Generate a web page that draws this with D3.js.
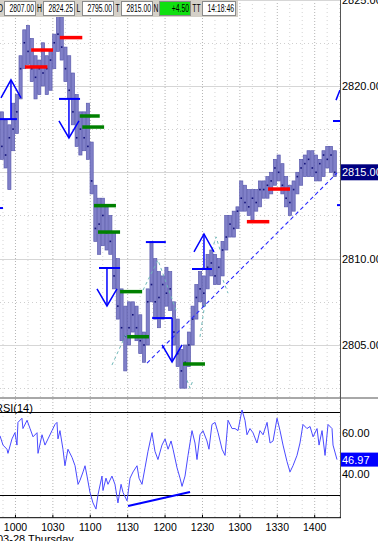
<!DOCTYPE html>
<html>
<head>
<meta charset="utf-8">
<script src="https://cdn.jsdelivr.net/npm/d3@7"></script>
<style>
  body { margin: 0; background: #fff; overflow: hidden; }
  svg { display: block; font-family: "Liberation Sans", Arial, sans-serif; }
</style>
</head>
<body>
<div id="chart"></div>
<script>
// 3-minute bars, first one starts 09:48 (minutes after midnight)
const firstBar = 588;
const barMinutes = 3;

const highs = [
  2818.5, 2818.0, 2817.75, 2819.0, 2819.5, 2821.75, 2823.25, 2823.5, 2822.75, 2821.75,
  2821.5, 2822.5, 2821.75, 2822.0, 2823.0, 2824.25, 2824.0, 2822.25, 2821.75, 2820.75,
  2819.5, 2818.5, 2818.5, 2819.0, 2816.75, 2814.25, 2813.5, 2813.5, 2813.0, 2812.5,
  2811.5, 2810.0, 2808.25, 2807.25, 2807.5, 2807.5, 2807.25, 2806.75, 2805.75, 2808.25,
  2811.0, 2810.0, 2809.25, 2809.0, 2809.5, 2809.25, 2807.5, 2806.5, 2804.75, 2805.0,
  2805.75, 2807.25, 2808.5, 2809.25, 2809.0, 2810.25, 2810.5, 2810.25, 2810.0, 2811.0,
  2812.5, 2812.5, 2812.75, 2813.0, 2814.5, 2814.25, 2814.0, 2814.0, 2814.0, 2814.5,
  2814.5, 2814.75, 2815.0, 2815.75, 2816.0, 2815.5, 2814.75, 2814.25, 2814.5, 2815.0,
  2815.75, 2816.0, 2816.25, 2816.25, 2816.0, 2815.75, 2816.25, 2816.5, 2816.5, 2816.25
];
const lows = [
  2815.75, 2815.25, 2814.0, 2816.25, 2817.25, 2819.25, 2821.0, 2821.25, 2820.25, 2819.25,
  2819.5, 2820.0, 2819.5, 2819.75, 2821.0, 2822.0, 2821.5, 2820.25, 2819.25, 2817.75,
  2816.5, 2816.0, 2816.25, 2815.75, 2813.75, 2811.0, 2810.25, 2810.75, 2810.5, 2810.25,
  2808.25, 2806.5, 2805.25, 2803.5, 2805.0, 2805.75, 2805.25, 2804.5, 2804.0, 2805.0,
  2807.5, 2806.5, 2806.0, 2806.5, 2807.25, 2807.0, 2805.0, 2803.75, 2802.5, 2802.5,
  2803.75, 2805.0, 2806.5, 2807.5, 2807.25, 2808.25, 2809.0, 2808.5, 2808.5, 2809.0,
  2810.5, 2811.25, 2811.25, 2811.75, 2812.75, 2812.75, 2812.5, 2812.25, 2812.75, 2813.0,
  2813.5, 2813.5, 2813.75, 2814.25, 2814.5, 2813.75, 2813.0, 2812.5, 2812.75, 2813.75,
  2814.25, 2814.75, 2814.75, 2814.75, 2814.5, 2814.5, 2814.75, 2815.25, 2815.0, 2814.75
];
const closes = [
  2816.5, 2816.0, 2817.0, 2817.5, 2818.5, 2821.0, 2822.5, 2822.0, 2821.0, 2820.5,
  2821.0, 2820.75, 2821.0, 2821.5, 2822.5, 2823.0, 2822.25, 2821.0, 2819.75, 2818.5,
  2817.0, 2817.5, 2817.0, 2816.5, 2814.5, 2811.75, 2812.0, 2812.5, 2811.5, 2811.0,
  2809.0, 2807.25, 2806.0, 2805.5, 2806.0, 2806.75, 2806.0, 2805.25, 2805.0, 2807.5,
  2808.5, 2807.5, 2807.75, 2808.5, 2808.0, 2808.25, 2805.75, 2804.5, 2803.5, 2804.0,
  2805.0, 2806.5, 2807.75, 2808.25, 2808.0, 2809.5, 2809.75, 2809.0, 2809.5, 2810.5,
  2811.25, 2812.0, 2811.75, 2812.75, 2813.5, 2813.25, 2813.0, 2813.5, 2813.25, 2814.0,
  2814.0, 2814.25, 2814.5, 2815.25, 2815.0, 2814.25, 2813.5, 2813.25, 2814.0, 2814.75,
  2815.25, 2815.5, 2815.75, 2815.25, 2815.0, 2815.5, 2816.0, 2815.75, 2816.0, 2815.0
];

// RSI(14): times (minutes after midnight) and values
const rsiTimes = [
  588.0, 590.4, 593.6, 594.4, 597.6, 600.0, 601.6, 602.4, 605.6, 606.4, 609.7, 612.1, 614.5, 617.7, 618.5,
  621.7, 624.1, 626.5, 629.7, 632.1, 633.7, 634.5, 636.1, 638.5, 640.1, 642.5, 645.8, 648.2, 650.6, 652.2,
  654.6, 656.2, 657.8, 660.2, 662.6, 665.0, 666.6, 669.8, 670.6, 673.0, 674.6, 677.8, 680.2, 682.6, 685.1,
  686.7, 689.9, 692.3, 694.7, 697.9, 699.5, 701.9, 704.3, 706.7, 709.9, 712.3, 714.7, 717.9, 720.4, 722.8,
  725.2, 726.8, 730.0, 732.4, 734.0, 736.4, 738.8, 742.0, 744.4, 746.0, 748.4, 750.8, 754.0, 755.6, 758.0,
  760.5, 762.9, 766.1, 768.5, 770.9, 774.1, 776.5, 778.9, 782.1, 784.5, 786.1, 788.5, 790.9, 794.1, 796.5,
  799.0, 802.2, 804.6, 807.0, 810.2, 812.6, 815.0, 818.2, 820.6, 823.0, 826.2, 828.6, 831.0, 834.2, 836.7,
  839.1, 842.3, 843.9, 846.3, 848.7, 851.1, 854.3, 855.1, 858.3
];
const rsiValues = [
  58.5, 54, 52, 50, 57, 60, 54, 65, 67, 62, 66, 62, 58, 60, 50,
  59, 54, 57, 61, 64, 65, 57, 61, 52, 44, 52, 48, 44, 35, 37,
  41, 44, 39, 31, 26, 23, 30, 39, 32, 38, 35, 39, 35, 26, 35,
  31, 27, 38, 41, 44, 38, 35, 43, 51, 60, 51, 47, 54, 57, 52,
  56, 52, 43, 38, 34, 39, 49, 61, 55, 47, 59, 61, 56, 52, 64,
  65, 60, 52, 49, 66, 62, 62, 61, 71, 66, 59, 62, 60, 55, 61,
  59, 65, 55, 56, 67, 61, 54, 46, 41, 44, 49, 55, 64, 62, 63,
  58, 62, 54, 61, 49, 64, 62, 54, 46.97
];

// level marks: [start min, end min, price]
const redLevels = [[608, 626, 2821.1], [613, 630.5, 2822.08], [636, 654, 2822.8], [786, 804, 2812.14], [803, 820.6, 2814.03]];
const greenLevels = [[652, 668, 2818.26], [654, 671.5, 2817.62], [663.4, 681, 2813.07], [666.6, 684.3, 2811.54],
  [684.3, 702, 2808.09], [690, 707.5, 2805.48], [734.8, 752.4, 2803.9]];
// signal arrows: [bar start, bar end, stem time, bar price, tip price]
const signalArrows = [[588, 601.6, 596.8, 2818.08, 2820.35], [635.3, 652.2, 643.3, 2819.25, 2816.99],
  [667.4, 684.3, 673.8, 2809.46, 2807.26], [710, 726, 726, 2806.56, 2804.02], [742, 758, 751.6, 2809.4, 2811.43]];
// plain signal bars: [start, end, price]
const signalBars = [[705, 721, 2810.96], [855.1, 861, 2817.97], [858.3, 861, 2813.1], [586, 590.4, 2812.93]];
const signalSegs = [[857.5, 2819.18, 860.7, 2819.76]];
// trend line and zigzag guides: [time, price] points
const trendLine = [[705.9, 2803.95], [858.3, 2814.96]];
const guideLines = [
  [[677.8, 2803.84], [689.1, 2805.63]],
  [[702.7, 2808.18], [714.7, 2809.92], [730, 2806.85]],
  [[738, 2802.96], [740.4, 2802.5], [742.8, 2802.96]],
  [[748.4, 2805.47], [752.4, 2807.43]],
  [[758, 2810.5], [761.3, 2811.26], [764.5, 2810.5]],
  [[766.9, 2808.76], [770.9, 2808.0]]
];
const rsiDivergence = [[690.7, 24.5], [740.4, 31.3]];

const priceTicks = [2805, 2810, 2815, 2820, 2825];
const rsiTicks = [40, 60];
const rsiBands = [30, 70];
const timeTicks = [600, 630, 660, 690, 720, 750, 780, 810, 840];
const lastPrice = 2815.00;
const lastRsi = 46.97;
const dateLabel = '03-28 Thursday';
const quoteLabels = ['O', 'H', 'L', 'T', 'N', 'TT'];
const quoteValues = ['2807.00', '2824.25', '2795.00', '2815.00', '+4.50', '14:18:46'];

const width = 378, height = 541, plotRight = 340;
const priceBottom = 397, rsiTop = 399, axisY = 517.7;

const svg = d3.select('#chart').append('svg')
  .attr('width', width)
  .attr('height', height);

const x = d3.scaleLinear().domain([588, 860.7]).range([0, plotRight]);
const yP = d3.scaleLinear().domain([2805, 2815]).range([345, 172.3]);
const yR = d3.scaleLinear().domain([40, 60]).range([474, 432.7]);
const barW = x(firstBar + barMinutes) - x(firstBar);
const barTime = i => firstBar + i * barMinutes;

const defs = svg.append('defs');
defs.append('clipPath').attr('id', 'clip-price').append('rect')
  .attr('x', 0).attr('y', 0).attr('width', plotRight).attr('height', priceBottom);
defs.append('clipPath').attr('id', 'clip-rsi').append('rect')
  .attr('x', 0).attr('y', rsiTop).attr('width', plotRight).attr('height', axisY - rsiTop);

// grid
const grid = svg.append('g');
d3.range(590, 861, 10).forEach(t => {
  const major = (t % 30) === 0;
  grid.append('line')
    .attr('x1', x(t) + 0.5).attr('x2', x(t) + 0.5)
    .attr('y1', 0).attr('y2', axisY)
    .attr('stroke', major ? '#b4b4b4' : '#d4d4d4')
    .attr('stroke-dasharray', major ? '1,2' : '1,3');
});
d3.range(2802.5, 2825.1, 2.5).forEach(p => {
  const major = (p % 5) === 0;
  grid.append('line')
    .attr('x1', 0).attr('x2', plotRight)
    .attr('y1', Math.round(yP(p)) + 0.5).attr('y2', Math.round(yP(p)) + 0.5)
    .attr('stroke', major ? '#d6d6d6' : '#cfcfcf')
    .attr('stroke-dasharray', major ? null : '1,3');
});

// price bars
const pricePane = svg.append('g').attr('clip-path', 'url(#clip-price)');
pricePane.selectAll('.bar')
  .data(highs)
  .join('rect')
  .attr('class', 'bar')
  .attr('x', (d, i) => x(barTime(i)) + 0.3)
  .attr('width', barW - 0.6)
  .attr('y', d => yP(d))
  .attr('height', (d, i) => yP(lows[i]) - yP(d))
  .attr('fill', '#8080c8')
  .attr('stroke', '#5a5aae')
  .attr('stroke-width', 0.7);
pricePane.selectAll('.close')
  .data(closes)
  .join('rect')
  .attr('class', 'close')
  .attr('x', (d, i) => x(barTime(i) + barMinutes / 2) - 0.8)
  .attr('y', d => yP(d) - 0.8)
  .attr('width', 1.6).attr('height', 1.6)
  .attr('fill', '#12127a');

// guides
const priceLine = d3.line().x(d => x(d[0])).y(d => yP(d[1]));
guideLines.forEach(g => {
  pricePane.append('path').attr('d', priceLine(g))
    .attr('fill', 'none').attr('stroke', '#6fb8b8').attr('stroke-width', 1)
    .attr('stroke-dasharray', '3,3');
});
pricePane.append('path').attr('d', priceLine(trendLine))
  .attr('fill', 'none').attr('stroke', '#2828ff').attr('stroke-width', 1.1)
  .attr('stroke-dasharray', '4,3');

// red and green levels
const drawLevels = (levels, color) => {
  pricePane.selectAll(null)
    .data(levels)
    .join('line')
    .attr('x1', d => x(d[0])).attr('x2', d => x(d[1]))
    .attr('y1', d => yP(d[2])).attr('y2', d => yP(d[2]))
    .attr('stroke', color).attr('stroke-width', 3.5);
};
drawLevels(redLevels, '#ff0000');
drawLevels(greenLevels, '#008000');

// signal arrows
const blue = '#0000ff';
signalArrows.forEach(a => {
  const [t0, t1, ts, pBar, pTip] = a;
  const up = pTip > pBar;
  const tx = x(ts), ty = yP(pTip);
  const wy = up ? ty + 18 : ty - 17;
  pricePane.append('line')
    .attr('x1', x(t0)).attr('x2', x(t1)).attr('y1', yP(pBar)).attr('y2', yP(pBar))
    .attr('stroke', blue).attr('stroke-width', 2);
  pricePane.append('line')
    .attr('x1', tx).attr('x2', tx).attr('y1', yP(pBar)).attr('y2', ty)
    .attr('stroke', blue).attr('stroke-width', 1.5);
  pricePane.append('path')
    .attr('d', `M${tx - 10},${wy}L${tx},${ty}L${tx + 10},${wy}`)
    .attr('fill', 'none').attr('stroke', blue).attr('stroke-width', 1.5);
});
signalBars.forEach(b => {
  pricePane.append('line')
    .attr('x1', x(b[0])).attr('x2', x(b[1])).attr('y1', yP(b[2])).attr('y2', yP(b[2]))
    .attr('stroke', blue).attr('stroke-width', 2);
});
signalSegs.forEach(s => {
  pricePane.append('line')
    .attr('x1', x(s[0])).attr('y1', yP(s[1])).attr('x2', x(s[2])).attr('y2', yP(s[3]))
    .attr('stroke', blue).attr('stroke-width', 1.5);
});

// panel separator
svg.append('rect').attr('x', 0).attr('y', priceBottom).attr('width', width).attr('height', 2)
  .attr('fill', '#a8a8a8');

// RSI pane
const rsiPane = svg.append('g').attr('clip-path', 'url(#clip-rsi)');
rsiBands.forEach(v => {
  rsiPane.append('line')
    .attr('x1', 0).attr('x2', plotRight)
    .attr('y1', Math.round(yR(v)) + 0.5).attr('y2', Math.round(yR(v)) + 0.5)
    .attr('stroke', '#000').attr('stroke-width', 1);
});
const rsiLine = d3.line()
  .x((d, i) => x(rsiTimes[i]))
  .y(d => yR(d));
rsiPane.append('path').attr('d', rsiLine(rsiValues))
  .attr('fill', 'none').attr('stroke', '#4a4aff').attr('stroke-width', 1);
rsiPane.append('line')
  .attr('x1', x(rsiDivergence[0][0])).attr('y1', yR(rsiDivergence[0][1]))
  .attr('x2', x(rsiDivergence[1][0])).attr('y2', yR(rsiDivergence[1][1]))
  .attr('stroke', blue).attr('stroke-width', 2.2);
svg.append('text')
  .attr('x', -5).attr('y', 412)
  .attr('font-size', '11px').attr('fill', '#000')
  .text('RSI(14)');

// right axes
svg.append('line').attr('x1', plotRight + 0.5).attr('x2', plotRight + 0.5).attr('y1', 0).attr('y2', axisY)
  .attr('stroke', '#555');
const priceAxis = svg.append('g')
  .attr('transform', `translate(${plotRight},0)`)
  .call(d3.axisRight(yP).tickValues(priceTicks).tickFormat(d3.format('.2f')).tickSize(0).tickPadding(2));
const rsiAxis = svg.append('g')
  .attr('transform', `translate(${plotRight},0)`)
  .call(d3.axisRight(yR).tickValues(rsiTicks).tickFormat(d3.format('.2f')).tickSize(0).tickPadding(2));
[priceAxis, rsiAxis].forEach(a => {
  a.select('.domain').remove();
  a.selectAll('text').attr('font-size', '11px').attr('font-family', '"Liberation Sans", Arial, sans-serif')
    .attr('fill', '#000');
});

// last value boxes
const valueBox = (yPos, label, bg, h) => {
  svg.append('rect').attr('x', plotRight + 1).attr('y', yPos - h / 2).attr('width', width - plotRight)
    .attr('height', h).attr('fill', bg);
  svg.append('text').attr('x', plotRight + 2).attr('y', yPos).attr('dy', '0.36em')
    .attr('font-size', '11px').attr('fill', '#fff').text(label);
};
valueBox(yP(lastPrice), d3.format('.2f')(lastPrice), '#000080', 16);
valueBox(yR(lastRsi), d3.format('.2f')(lastRsi), '#0000ff', 14);

// time axis
const timeAxis = svg.append('g')
  .attr('transform', `translate(0,${axisY})`)
  .call(d3.axisBottom(x).tickValues(timeTicks)
    .tickFormat(t => String(Math.floor(t / 60) * 100 + t % 60))
    .tickSize(3).tickPadding(3));
timeAxis.select('.domain').remove();
timeAxis.selectAll('line').attr('stroke', '#000').attr('transform', 'translate(0,-3)');
timeAxis.selectAll('text').attr('font-size', '10.5px').attr('fill', '#000')
  .attr('font-family', '"Liberation Sans", Arial, sans-serif');
svg.append('line').attr('x1', 0).attr('x2', plotRight + 1).attr('y1', axisY).attr('y2', axisY)
  .attr('stroke', '#000');
svg.append('text').attr('x', -3).attr('y', 543).attr('font-size', '11px').attr('fill', '#000')
  .text(dateLabel);

// quote toolbar (narrow text squeezed horizontally)
const bar = svg.append('g');
bar.append('rect').attr('x', 0).attr('y', 0).attr('width', 238).attr('height', 17).attr('fill', '#d4d0c8');
const labelW = [7, 7, 7, 7, 6, 11];
const squeeze = 0.68;
let cx = -3;
quoteLabels.forEach((lab, i) => {
  const lw = labelW[i];
  bar.append('g').attr('transform', `translate(${cx + lw / 2},12) scale(${squeeze},1)`)
    .append('text').attr('text-anchor', 'middle')
    .attr('font-size', '10px').attr('fill', '#000').text(lab);
  cx += lw;
  const vw = i === 5 ? 34 : 32;
  bar.append('rect').attr('x', cx + 0.5).attr('y', 1.5).attr('width', vw - 1).attr('height', 14)
    .attr('fill', i === 4 ? '#10e010' : '#fff').attr('stroke', '#8a8a8a');
  bar.append('g').attr('transform', `translate(${cx + vw - 2},12) scale(${squeeze},1)`)
    .append('text').attr('text-anchor', 'end')
    .attr('font-size', '10px').attr('fill', '#000').text(quoteValues[i]);
  cx += vw;
});
</script>
</body>
</html>
